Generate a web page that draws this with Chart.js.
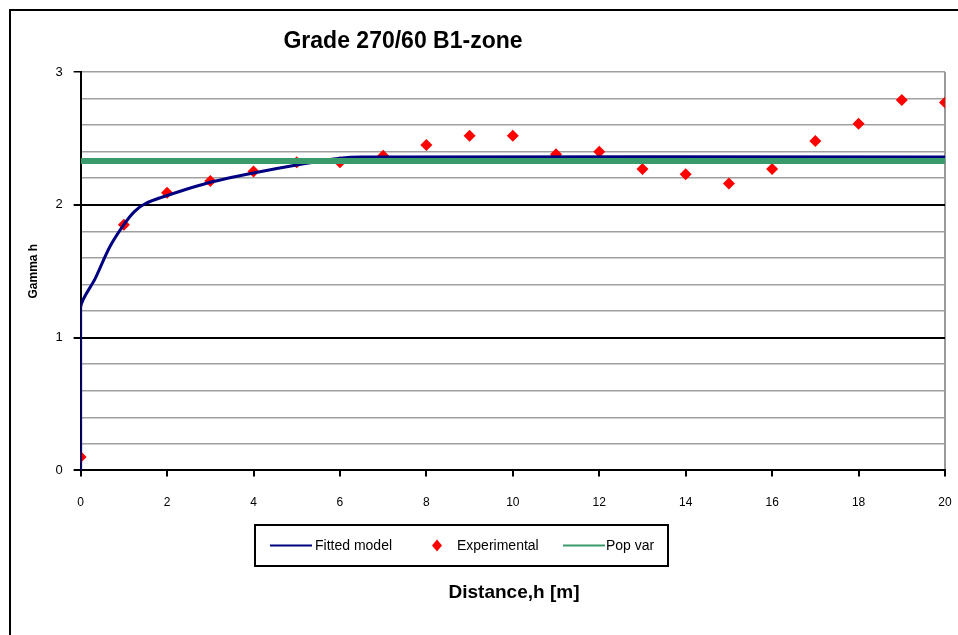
<!DOCTYPE html>
<html>
<head>
<meta charset="utf-8">
<script src="https://cdn.jsdelivr.net/npm/chart.js@4/dist/chart.umd.min.js"></script>
<style>
  html, body { margin: 0; padding: 0; background: #fff; }
  #wrap { width: 958px; height: 635px; position: relative; }
</style>
</head>
<body>
<div id="wrap"><canvas id="chart"></canvas></div>
<script>
/* DATA */
const chartTitle = "Grade 270/60 B1-zone";
const xTitle = "Distance,h [m]";
const yTitle = "Gamma h";

const lagDistance = [0, 1, 2, 3, 4, 5, 6, 7, 8, 9, 10, 11, 12, 13, 14, 15, 16, 17, 18, 19, 20];
const experimental = [0.10, 1.85, 2.09, 2.18, 2.25, 2.32, 2.32, 2.37, 2.45, 2.52, 2.52, 2.38, 2.40, 2.27, 2.23, 2.16, 2.27, 2.48, 2.61, 2.79, 2.77];

const modelDistance = [0, 0, 0.33, 0.67, 1, 1.25, 1.5, 2, 3, 4, 5, 6, 6.5, 20];
const modelGamma = [0, 1.23, 1.44, 1.68, 1.85, 1.95, 2.01, 2.07, 2.17, 2.24, 2.30, 2.35, 2.36, 2.36];

const popVarDistance = [0, 20];
const popVarGamma = [2.33, 2.33];

const xTicks = [0, 2, 4, 6, 8, 10, 12, 14, 16, 18, 20];
const yMajor = [0, 1, 2, 3];

const toPoints = (xs, ys) => xs.map((x, i) => ({ x: x, y: ys[i] }));
const isInt = v => Math.abs(v - Math.round(v)) < 1e-6;

/* DECOR: page frame, title, legend box, x title */
const decor = {
  id: "decor",
  afterDraw(chart) {
    const c = chart.ctx;
    c.save();

    // outer frame
    c.strokeStyle = "#000";
    c.lineWidth = 2;
    c.beginPath();
    c.moveTo(10, 640);
    c.lineTo(10, 10);
    c.lineTo(960, 10);
    c.stroke();

    // title
    c.fillStyle = "#000";
    c.font = "bold 23px 'Liberation Sans', Arial, sans-serif";
    c.textAlign = "center";
    c.textBaseline = "middle";
    c.fillText(chartTitle, 403, 42);

    // legend
    const lx = 255, ly = 525, lw = 413, lh = 41, my = ly + lh / 2;
    c.lineWidth = 2;
    c.strokeStyle = "#000";
    c.strokeRect(lx, ly, lw, lh);
    c.font = "14px 'Liberation Sans', Arial, sans-serif";
    c.textAlign = "left";
    const ds = chart.data.datasets;
    const items = [
      { d: ds[1], x: 270, tx: 315 },
      { d: ds[2], x: 437, tx: 457 },
      { d: ds[0], x: 563, tx: 606 }
    ];
    items.forEach(it => {
      if (it.d.showLine) {
        c.strokeStyle = it.d.borderColor;
        c.lineWidth = 2;
        c.beginPath();
        c.moveTo(it.x, my);
        c.lineTo(it.x + 42, my);
        c.stroke();
      } else {
        c.fillStyle = it.d.backgroundColor;
        c.beginPath();
        c.moveTo(it.x, my - 6);
        c.lineTo(it.x + 5, my);
        c.lineTo(it.x, my + 6);
        c.lineTo(it.x - 5, my);
        c.closePath();
        c.fill();
      }
      c.fillStyle = "#000";
      c.fillText(it.d.label, it.tx, my + 1);
    });

    // x axis title
    c.font = "bold 19px 'Liberation Sans', Arial, sans-serif";
    c.textAlign = "center";
    c.fillText(xTitle, 514, 593);
    c.restore();
  }
};

/* CHART */
new Chart(document.getElementById("chart"), {
  type: "scatter",
  data: {
    datasets: [
      {
        label: "Pop var",
        data: toPoints(popVarDistance, popVarGamma),
        showLine: true,
        borderColor: "#399a6b",
        borderWidth: 6,
        pointRadius: 0,
        order: 0
      },
      {
        label: "Fitted model",
        data: toPoints(modelDistance, modelGamma),
        showLine: true,
        borderColor: "#000080",
        borderWidth: 3,
        tension: 0.25,
        pointRadius: 0,
        order: 1
      },
      {
        label: "Experimental",
        data: toPoints(lagDistance, experimental),
        showLine: false,
        pointStyle: "rectRot",
        pointRadius: 6,
        backgroundColor: "#ff0000",
        borderColor: "#ff0000",
        borderWidth: 0,
        order: 2
      }
    ]
  },
  options: {
    responsive: true,
    maintainAspectRatio: false,
    animation: false,
    layout: { padding: { left: 20, right: 13, top: 72, bottom: 107 } },
    plugins: {
      legend: { display: false },
      title: { display: false },
      tooltip: { enabled: false }
    },
    scales: {
      x: {
        type: "linear",
        min: 0,
        max: 20,
        afterBuildTicks: s => { s.ticks = xTicks.map(v => ({ value: v })); },
        grid: {
          drawOnChartArea: true,
          color: ctx => (ctx.tick && ctx.tick.value === 20 ? "#999" : "rgba(0,0,0,0)"),
          lineWidth: 2,
          tickColor: "#000",
          tickLength: 6
        },
        border: { color: "#000", width: 2 },
        ticks: {
          color: "#000",
          padding: 3,
          maxRotation: 0,
          autoSkip: false,
          font: { family: "'Liberation Sans', Arial, sans-serif", size: 12, lineHeight: 3.8 }
        }
      },
      y: {
        min: 0,
        max: 3,
        ticks: {
          stepSize: 0.2,
          autoSkip: false,
          color: "#000",
          padding: 11,
          font: { family: "'Liberation Sans', Arial, sans-serif", size: 13 },
          callback: v => (isInt(v) && yMajor.includes(Math.round(v)) ? String(Math.round(v)) : "")
        },
        grid: {
          color: ctx => {
            const v = ctx.tick ? ctx.tick.value : 0;
            if (isInt(v) && v < 2.99) return "#000";
            return "#a0a0a0";
          },
          lineWidth: ctx => (ctx.tick && isInt(ctx.tick.value) && ctx.tick.value < 2.99 ? 2 : 1.5),
          tickColor: ctx => (ctx.tick && isInt(ctx.tick.value) ? "#000" : "rgba(0,0,0,0)"),
          tickLength: 7
        },
        border: { color: "#000", width: 2 },
        title: {
          display: true,
          text: yTitle,
          color: "#000",
          font: { family: "'Liberation Sans', Arial, sans-serif", size: 12, weight: "bold" },
          padding: { top: 6, bottom: 4 }
        }
      }
    }
  },
  plugins: [decor]
});
</script>
</body>
</html>
